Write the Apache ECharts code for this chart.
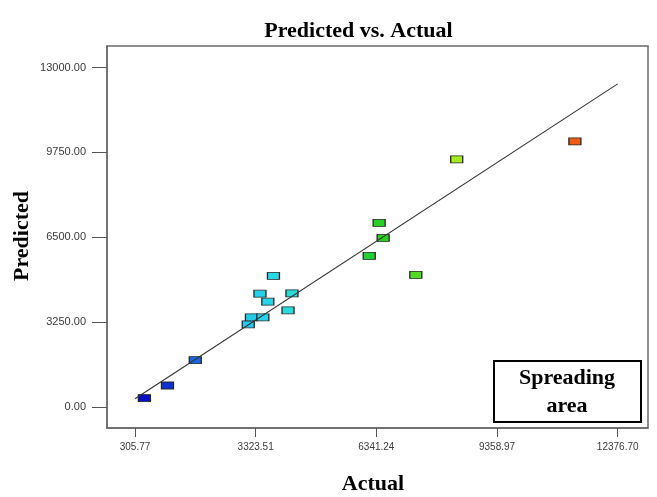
<!DOCTYPE html>
<html>
<head>
<meta charset="utf-8">
<script src="https://cdn.jsdelivr.net/npm/echarts@6/dist/echarts.min.js"></script>
<style>
html,body{margin:0;padding:0;background:#fff;}
#chart{width:657px;height:497px;}
</style>
</head>
<body>
<div id="chart"></div>
<script>
// Actual vs predicted values
var actual    = [541, 1118, 1813, 3138, 3218, 3503, 3431, 3628, 3768, 4133, 4231, 6163, 6411, 6511, 7328, 8351, 11306];
var predicted = [333, 815, 1785, 3162, 3429, 3429, 4333, 4027, 5021, 3697, 4346, 5786, 7048, 6474, 5059, 9482, 10170];
// Tick values
var xTicks = [305.77, 3323.51, 6341.24, 9358.97, 12376.70];
var yTicks = [0, 3250, 6500, 9750, 13000];
// Reference line y = x, from min to max actual
var lineEnds = [305.77, 12376.70];

var points = actual.map(function (a, i) { return [a, predicted[i]]; });
var linePts = lineEnds.map(function (v) { return [v, v]; });

var chart = echarts.init(document.getElementById('chart'), null, {renderer: 'canvas'});
var serif = '"Liberation Serif", "DejaVu Serif", serif';
var sans = '"Liberation Sans", Arial, sans-serif';

chart.setOption({
  animation: false,
  backgroundColor: '#ffffff',
  grid: {
    left: 107, right: 9, top: 46, bottom: 69,
    show: true, borderColor: '#6a6a6a', borderWidth: 1.5, backgroundColor: 'transparent'
  },
  xAxis: {
    type: 'value',
    min: -394, max: 13134,
    axisLine: {show: true, onZero: false, lineStyle: {color: '#6a6a6a', width: 1.5}},
    axisTick: {show: true, length: 9, customValues: xTicks, lineStyle: {color: '#555', width: 1}},
    axisLabel: {
      show: true, customValues: xTicks, margin: 14,
      fontFamily: sans, fontSize: 10, color: '#3a3a3a',
      formatter: function (v) { return v.toFixed(2); }
    },
    splitLine: {show: false}
  },
  yAxis: {
    type: 'value',
    min: -814, max: 13830,
    axisLine: {show: true, onZero: false, lineStyle: {color: '#6a6a6a', width: 1.5}},
    axisTick: {show: true, length: 15, customValues: yTicks, lineStyle: {color: '#555', width: 1}},
    axisLabel: {
      show: true, customValues: yTicks, margin: 21,
      fontFamily: sans, fontSize: 11, color: '#3a3a3a',
      formatter: function (v) { return v.toFixed(2); }
    },
    splitLine: {show: false}
  },
  visualMap: {
    show: false, type: 'continuous', seriesIndex: 0, dimension: 0,
    min: 305.77, max: 12376.70,
    inRange: {color: ['#0000c0', '#1848e0', '#20c0ec', '#28dce8', '#28d8a0', '#20d020', '#60e020', '#c8f020', '#f0c020', '#f06018', '#e03010']}
  },
  series: [
    {
      type: 'scatter',
      data: points,
      symbol: 'rect',
      symbolSize: [12, 7],
      itemStyle: {borderColor: '#262626', borderWidth: 1, opacity: 1},
      z: 2
    },
    {
      type: 'line',
      data: linePts,
      symbol: 'none',
      lineStyle: {color: '#333', width: 1.1},
      z: 3,
      silent: true
    }
  ],
  graphic: [
    {type: 'text', x: 358.5, y: 31, style: {text: 'Predicted vs. Actual', font: 'bold 22px ' + serif, fill: '#000', textAlign: 'center', textVerticalAlign: 'middle'}},
    {type: 'text', x: 373, y: 484, style: {text: 'Actual', font: 'bold 22px ' + serif, fill: '#000', textAlign: 'center', textVerticalAlign: 'middle'}},
    {type: 'text', x: 22, y: 236, rotation: Math.PI / 2, style: {text: 'Predicted', font: 'bold 22px ' + serif, fill: '#000', textAlign: 'center', textVerticalAlign: 'middle'}},
    {type: 'rect', shape: {x: 494, y: 361, width: 147, height: 61}, style: {fill: '#fff', stroke: '#000', lineWidth: 2}, z: 10},
    {type: 'text', x: 567, y: 378, z: 11, style: {text: 'Spreading', font: 'bold 22px ' + serif, fill: '#000', textAlign: 'center', textVerticalAlign: 'middle'}},
    {type: 'text', x: 567, y: 406, z: 11, style: {text: 'area', font: 'bold 22px ' + serif, fill: '#000', textAlign: 'center', textVerticalAlign: 'middle'}}
  ]
});
</script>
</body>
</html>
